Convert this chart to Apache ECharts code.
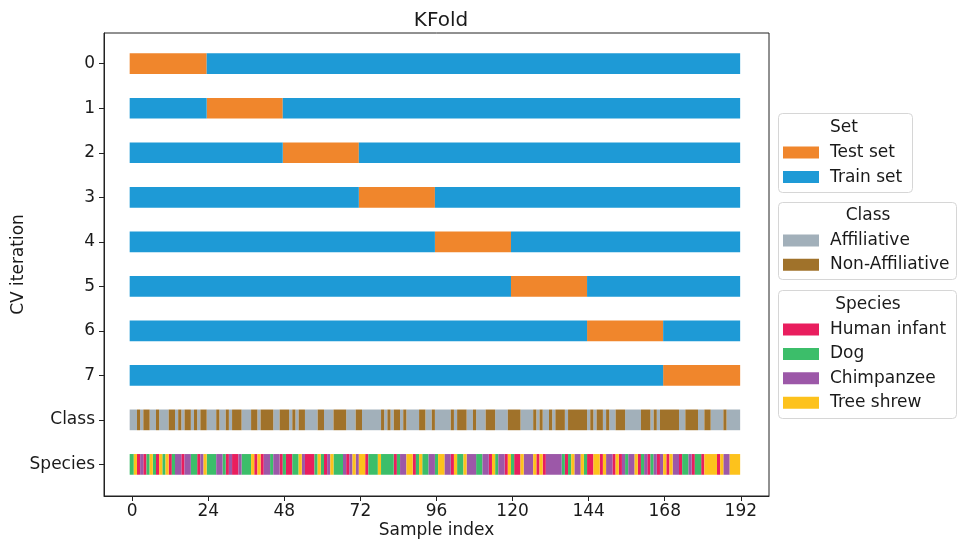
<!DOCTYPE html>
<html>
<head>
<meta charset="utf-8">
<script src="https://cdn.jsdelivr.net/npm/echarts@6/dist/echarts.min.js"></script>
<style>
  html, body { margin: 0; padding: 0; background: #fff; }
  #chart { width: 957px; height: 539px; }
</style>
</head>
<body>
<div id="chart"></div>
<script>
// row labels (top to bottom) and where they sit on the y axis
const rowLabels = ['0', '1', '2', '3', '4', '5', '6', '7', 'Class', 'Species'];
const rowPos = [0.5, 1.5, 2.5, 3.5, 4.5, 5.5, 6.5, 7.5, 8.5, 9.5];
const xTicks = [0, 24, 48, 72, 96, 120, 144, 168, 192];
const nSamples = 192;

// test fold of every CV iteration [start, end)
const testStart = [0, 24, 48, 72, 96, 120, 144, 168];
const testEnd = [24, 48, 72, 96, 120, 144, 168, 192];

// class per sample: 0 = Affiliative, 1 = Non-Affiliative
const classes = [
  0,0,1,0,1,1,0,0,1,0,0,0,1,1,0,1,0,1,1,0,1,0,1,1,
  0,0,0,1,0,0,1,0,1,1,1,0,0,0,1,1,0,1,1,1,1,0,0,1,
  1,1,0,1,0,1,1,0,0,0,0,1,1,0,0,0,1,1,1,1,0,0,0,1,
  1,0,0,0,0,0,0,1,0,1,0,1,1,0,1,0,0,0,0,1,1,0,0,1,
  0,0,0,0,0,1,0,1,1,1,0,0,1,0,0,0,1,1,1,0,0,0,0,1,
  1,1,1,0,0,0,0,1,0,1,0,0,1,0,1,1,1,0,1,1,1,1,1,1,
  0,1,0,1,1,0,1,0,0,1,1,1,0,0,0,0,0,1,1,1,0,1,0,1,
  1,1,1,1,1,0,0,1,1,1,1,0,0,1,1,0,0,0,0,1,0,0,0,0
];

// species per sample: 0 = Human infant, 1 = Dog, 2 = Chimpanzee, 3 = Tree shrew
const species = [
  1,3,0,2,0,1,3,1,0,3,1,3,0,1,2,2,0,2,2,1,1,0,2,3,
  1,1,1,2,2,1,0,2,0,0,2,1,1,1,3,0,3,0,2,2,1,2,2,0,
  1,0,0,1,1,3,2,0,0,0,1,3,1,0,2,3,1,1,1,2,0,2,3,2,
  3,3,0,1,1,1,3,1,1,1,1,0,1,2,2,3,3,0,1,3,1,1,2,2,
  1,3,3,2,2,0,3,1,1,3,2,2,2,1,1,2,2,0,3,1,2,2,0,3,
  1,0,0,3,2,2,2,3,0,3,0,2,2,2,2,2,1,0,1,3,2,2,3,1,
  0,0,3,3,0,3,2,2,0,3,0,2,1,2,2,3,0,1,2,0,1,2,0,2,
  3,0,3,2,2,0,1,1,2,0,1,1,0,3,3,3,3,0,3,2,2,3,3,3
];

const setNames = ['Test set', 'Train set'];
const classNames = ['Affiliative', 'Non-Affiliative'];
const speciesNames = ['Human infant', 'Dog', 'Chimpanzee', 'Tree shrew'];

const setColors = ['#F0862C', '#1E9AD6'];
const classColors = ['#A2B0BA', '#A0722A'];
const speciesColors = ['#E91E5E', '#3CBE6A', '#9C58A8', '#FDC21C'];

// each sample covers [i - 0.5, i + 0.5]; the row ends stick out a little
const EDGE = 0.3;

// turn a per-sample label list into runs [x0, x1, y] for each label
function runsOf(labels, y, nKinds) {
  const out = [];
  for (let k = 0; k < nKinds; k++) out.push([]);
  let s = 0;
  for (let i = 1; i <= labels.length; i++) {
    if (i === labels.length || labels[i] !== labels[s]) {
      const x0 = s - 0.5 - (s === 0 ? EDGE : 0);
      const x1 = i - 0.5 + (i === labels.length ? EDGE : 0);
      out[labels[s]].push([x0, x1, y]);
      s = i;
    }
  }
  return out;
}

// CV rows: 0 = test, 1 = train
const setRuns = [[], []];
testStart.forEach((ts, k) => {
  const lab = [];
  for (let i = 0; i < nSamples; i++) lab.push(i >= ts && i < testEnd[k] ? 0 : 1);
  const r = runsOf(lab, rowPos[k], 2);
  setRuns[0].push(...r[0]);
  setRuns[1].push(...r[1]);
});
const classRuns = runsOf(classes, rowPos[8], 2);
const speciesRuns = runsOf(species, rowPos[9], 4);

function renderBar(params, api) {
  const p0 = api.coord([api.value(0), api.value(2)]);
  const p1 = api.coord([api.value(1), api.value(2)]);
  const h = api.size([0, 0.465])[1];
  return {
    type: 'rect',
    shape: { x: p0[0], y: p0[1] - h / 2, width: p1[0] - p0[0], height: h },
    style: api.style()
  };
}

function barSeries(name, color, data) {
  return {
    name: name,
    type: 'custom',
    renderItem: renderBar,
    encode: { x: [0, 1], y: 2 },
    itemStyle: { color: color },
    data: data
  };
}

const series = [];
setNames.forEach((n, k) => series.push(barSeries(n, setColors[k], setRuns[k])));
classNames.forEach((n, k) => series.push(barSeries(n, classColors[k], classRuns[k])));
speciesNames.forEach((n, k) => series.push(barSeries(n, speciesColors[k], speciesRuns[k])));

const FONT = 'DejaVu Sans';
const INK = '#1a1a1a';
const legendText = { fontFamily: FONT, fontSize: 17, color: INK, lineHeight: 18, padding: [0, 0, 0, 6] };

function legendBlock(names, top, gap) {
  return {
    data: names,
    orient: 'vertical',
    left: 783,
    top: top,
    icon: 'rect',
    itemWidth: 36,
    itemHeight: 12,
    itemGap: gap,
    padding: 0,
    selectedMode: false,
    textStyle: legendText
  };
}

function boxRect(x, y, w, h) {
  return {
    type: 'rect',
    shape: { x: x, y: y, width: w, height: h, r: 4 },
    style: { fill: '#fff', stroke: '#d6d6d6', lineWidth: 1 },
    z: -1
  };
}

function boxTitle(text, cx, cy) {
  return {
    type: 'text',
    x: cx,
    y: cy,
    style: { text: text, fontFamily: FONT, fontSize: 17, fill: INK, align: 'center', verticalAlign: 'middle' }
  };
}

const chart = echarts.init(document.getElementById('chart'), null, { renderer: 'canvas' });
chart.setOption({
  animation: false,
  backgroundColor: '#fff',
  title: {
    text: 'KFold',
    left: 436,
    top: 6,
    textAlign: 'center',
    textStyle: { fontFamily: FONT, fontSize: 20, fontWeight: 'normal', color: INK }
  },
  grid: {
    left: 104, top: 33, right: 188, bottom: 43,
    outerBoundsMode: 'none',
    show: true, borderColor: '#222', borderWidth: 1, backgroundColor: '#fff'
  },
  xAxis: {
    type: 'value',
    min: -8.9,
    max: 200.9,
    name: 'Sample index',
    nameLocation: 'middle',
    nameGap: 26,
    nameMoveOverlap: false,
    nameTextStyle: { fontFamily: FONT, fontSize: 17, color: INK },
    axisLine: { show: true, onZero: false, lineStyle: { color: '#222' } },
    axisTick: { show: true, customValues: xTicks, length: 5, lineStyle: { color: '#222' } },
    axisLabel: { customValues: xTicks, margin: 7, fontFamily: FONT, fontSize: 17, color: INK },
    splitLine: { show: false }
  },
  yAxis: {
    type: 'value',
    inverse: true,
    min: -0.19,
    max: 10.21,
    name: 'CV iteration',
    nameLocation: 'middle',
    nameGap: 77,
    nameMoveOverlap: false,
    nameTextStyle: { fontFamily: FONT, fontSize: 17, color: INK },
    axisLine: { show: true, onZero: false, lineStyle: { color: '#222' } },
    axisTick: { show: true, customValues: rowPos, length: 5, lineStyle: { color: '#222' } },
    axisLabel: {
      customValues: rowPos,
      margin: 9,
      fontFamily: FONT,
      fontSize: 17,
      color: INK,
      formatter: (v) => rowLabels[Math.round(v - 0.5)]
    },
    splitLine: { show: false }
  },
  legend: [
    legendBlock(setNames, 143.5, 6.6),
    legendBlock(classNames, 231.5, 6.2),
    legendBlock(speciesNames, 320.5, 6.4)
  ],
  graphic: [
    boxRect(778.5, 113.5, 134, 79),
    boxRect(778.5, 202.5, 178, 77),
    boxRect(778.5, 290.5, 178, 128),
    boxTitle('Set', 844, 128),
    boxTitle('Class', 868, 216),
    boxTitle('Species', 868, 305)
  ],
  series: series
});
</script>
</body>
</html>
